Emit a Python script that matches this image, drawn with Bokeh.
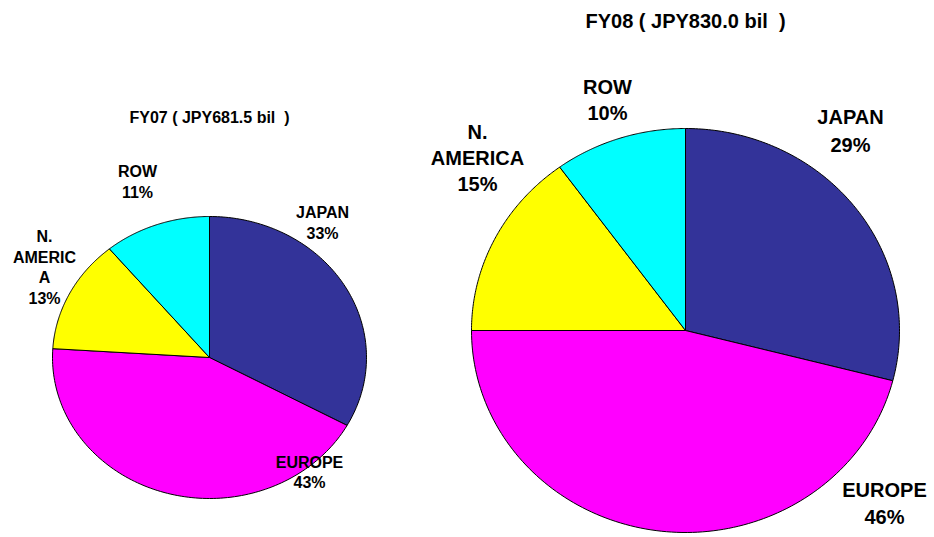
import numpy as np
from bokeh.plotting import figure
from bokeh.models import Range1d, ColumnDataSource
from bokeh.core.properties import value
from bokeh.embed import file_html
from bokeh.resources import INLINE

# ---------------- data ----------------
categories = ["JAPAN", "EUROPE", "N. AMERICA", "ROW"]
fy07_share = [33, 43, 13, 11]
fy08_share = [29, 46, 15, 10]
fy07_title = "FY07\u00a0(\u00a0JPY681.5\u00a0bil\u00a0\u00a0)"
fy08_title = "FY08\u00a0(\u00a0JPY830.0\u00a0bil\u00a0\u00a0)"
colors = ["#333399", "#FF00FF", "#FFFF00", "#00FFFF"]

# ---------------- layout (pixel space) ----------------
W, H = 934, 537
FONT = "Liberation Sans"

p = figure(width=W, height=H, output_backend="svg", toolbar_location=None,
           x_range=Range1d(0, W), y_range=Range1d(H, 0),
           min_border=0, outline_line_color=None)
p.axis.visible = False
p.grid.visible = False
p.background_fill_color = "white"
p.border_fill_color = "white"


def pie(values, cx, cy, rx, ry):
    total = float(sum(values))
    xs, ys = [], []
    start = 0.0
    for v in values:
        end = start + v / total * 2 * np.pi
        t = np.linspace(start, end, 120)
        x = np.concatenate([[cx], cx + rx * np.sin(t), [cx]])
        y = np.concatenate([[cy], cy - ry * np.cos(t), [cy]])
        xs.append(list(x))
        ys.append(list(y))
        start = end
    src = ColumnDataSource(dict(xs=xs, ys=ys, color=colors[:len(values)]))
    p.patches("xs", "ys", source=src, fill_color="color", line_color="black",
              line_width=1)


pie(fy07_share, 209, 357, 157, 141)
pie(fy08_share, 685, 330, 214, 202)


def label(lines, x, y, size, spacing):
    n = len(lines)
    ys = [y + i * spacing for i in range(n)]
    p.text(x=[x] * n, y=ys, text=lines, text_font=value(FONT),
           text_font_style="bold", text_font_size=size,
           text_align="center", text_baseline="middle", text_color="black")


# titles
label([fy07_title], 209, 117, "16px", 0)
label([fy08_title], 685, 20, "20px", 0)

# FY07 labels
label([categories[0], f"{fy07_share[0]}%"], 322, 212, "16px", 21)
label([categories[1], f"{fy07_share[1]}%"], 309, 462, "16px", 20)
label(["N.", "AMERIC", "A", f"{fy07_share[2]}%"], 44, 236, "16px", 20.5)
label([categories[3], f"{fy07_share[3]}%"], 137, 171, "16px", 21)

# FY08 labels
label([categories[0], f"{fy08_share[0]}%"], 850, 116, "20px", 28)
label([categories[1], f"{fy08_share[1]}%"], 884, 489, "20px", 27)
label(["N.", "AMERICA", f"{fy08_share[2]}%"], 477, 131, "20px", 26)
label([categories[3], f"{fy08_share[3]}%"], 607, 86, "20px", 26)

open("out.html", "w").write(file_html(p, INLINE))
